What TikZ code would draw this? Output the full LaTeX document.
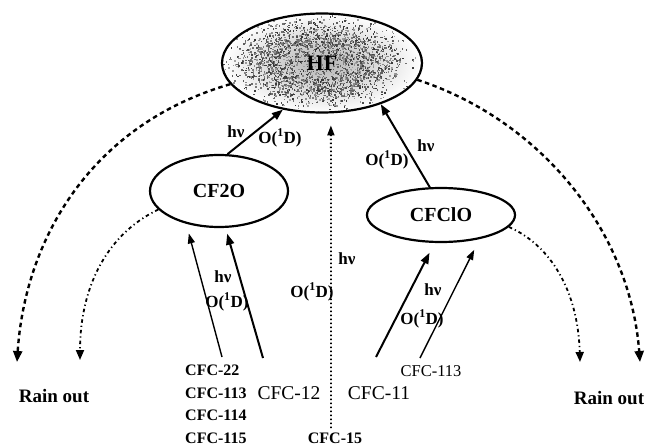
\documentclass[tikz,border=0pt]{standalone}
\usepackage{fontspec}
\setmainfont{Liberation Serif}
\usetikzlibrary{shapes.geometric,arrows.meta}
\begin{document}
\begin{tikzpicture}[x=1pt,y=-1pt,
  bub/.style={ellipse, draw, line width=2.2pt, inner sep=0pt, font=\bfseries\fontsize{20}{20}\selectfont},
  lbl/.style={font=\bfseries\fontsize{17}{17}\selectfont, inner sep=0pt},
  cfcb/.style={font=\bfseries\fontsize{16}{16}\selectfont, inner sep=0pt},
  cfcs/.style={font=\fontsize{16.5}{16.5}\selectfont, inner sep=0pt},
  cfcr/.style={font=\fontsize{19.5}{19.5}\selectfont, inner sep=0pt},
  rain/.style={font=\bfseries\fontsize{19}{19}\selectfont, inner sep=0pt},
  thickarr/.style={line width=2pt, -{Triangle[length=11pt,width=8pt]}},
  thinarr/.style={line width=1.4pt, -{Triangle[length=10pt,width=7pt]}},
  outerarc/.style={line width=2.4pt, dash pattern=on 4.5pt off 3.5pt, -{Triangle[length=11pt,width=9pt]}},
  innerarc/.style={line width=1.8pt, dash pattern=on 3.5pt off 3pt on 1.2pt off 3pt, -{Triangle[length=10pt,width=8pt]}},
  dotarr/.style={line width=1.8pt, dash pattern=on 1.4pt off 2.6pt, -{Triangle[length=10pt,width=7pt]}}
]
\useasboundingbox (0,0) rectangle (646,447);
\fill[white] (0,0) rectangle (646,447);

% HF texture
\begin{scope}
\clip (322,63) ellipse [x radius=99pt, y radius=49pt];
\fill[inner color=gray!60, outer color=white] (322,63) ellipse [x radius=100pt, y radius=50pt];
\pgfmathsetseed{42}
\foreach \i in {1,...,2600}{
  \pgfmathsetmacro{\ang}{360*rnd}
  \pgfmathsetmacro{\rr}{0.5*(rnd+rnd)+0.25*rnd}
  \pgfmathsetmacro{\sh}{int(35+45*rnd)}
  \fill[black!\sh] ({318+88*\rr*cos(\ang)},{62+44*\rr*sin(\ang)}) rectangle ++(1.5,1.5);
}
\end{scope}

% bubbles
\node[bub, minimum width=200pt, minimum height=99pt, font=\bfseries\fontsize{22}{22}\selectfont] (hf) at (322,63) {HF};
\node[bub, fill=white, minimum width=138pt, minimum height=72pt] (cf2o) at (219,191) {CF2O};
\node[bub, fill=white, minimum width=148pt, minimum height=54pt] (cfclo) at (441,215) {CFClO};

% source labels
\node[cfcb, anchor=west] (c22) at (185,370) {CFC-22};
\node[cfcb, anchor=west] (c113a) at (185,393) {CFC-113};
\node[cfcb, anchor=west] (c114) at (185,415) {CFC-114};
\node[cfcb, anchor=west] (c115) at (185,438) {CFC-115};
\node[cfcr] (c12) at (289,393) {CFC-12};
\node[cfcb] (c15) at (335,438) {CFC-15};
\node[cfcr] (c11) at (379,393) {CFC-11};
\node[cfcs] (c113b) at (431,371) {CFC-113};
\node[rain] (rl) at (54,396) {Rain out};
\node[rain] (rr) at (609,398) {Rain out};

% reaction labels
\node[lbl] (h1) at (236,132) {hν};
\node[lbl] (o1) at (280,138) {O(\textsuperscript{1}D)};
\node[lbl] (h2) at (426,146) {hν};
\node[lbl] (o2) at (387,160) {O(\textsuperscript{1}D)};
\node[lbl] (h3) at (347,259) {hν};
\node[lbl] (o3) at (312,292) {O(\textsuperscript{1}D)};
\node[lbl] (h4) at (223,277) {hν};
\node[lbl] (o4) at (227,302) {O(\textsuperscript{1}D)};
\node[lbl] (h5) at (433,290) {hν};
\node[lbl] (o5) at (422,319) {O(\textsuperscript{1}D)};

% coordinates
\coordinate (s22) at (222,357);
\coordinate (s12) at (263,358);
\coordinate (s11) at (376,357);
\coordinate (s113) at (420,358);
\coordinate (s15) at (331,428);
\coordinate (rain1) at (17,362);
\coordinate (rain2) at (80,360);
\coordinate (rain3) at (580,362);
\coordinate (rain4) at (640,362);

% arrows to HF
\draw[thickarr] (cf2o.77) -- (hf.230);
\draw[thickarr] (cfclo.112) -- (hf.325);
\draw[dotarr, shorten >=12pt] (s15) -- (hf.280);

% arrows to CF2O / CFClO
\draw[thinarr, shorten >=10pt] (s22) -- (cf2o.225);
\draw[thickarr, shorten >=6pt] (s12) -- (cf2o.280);
\draw[thickarr, shorten >=11pt] (s11) -- (cfclo.257);
\draw[thinarr, shorten >=12pt] (s113) -- (cfclo.328);

% rain out arcs
\draw[outerarc] (hf.193) .. controls (90,125) and (25,240) .. (rain1);
\draw[outerarc] (hf.350) .. controls (540,120) and (630,230) .. (rain4);
\draw[innerarc] (cf2o.197) .. controls (105,235) and (80,290) .. (rain2);
\draw[innerarc] (cfclo.350) .. controls (550,245) and (578,290) .. (rain3);
\end{tikzpicture}
\end{document}
